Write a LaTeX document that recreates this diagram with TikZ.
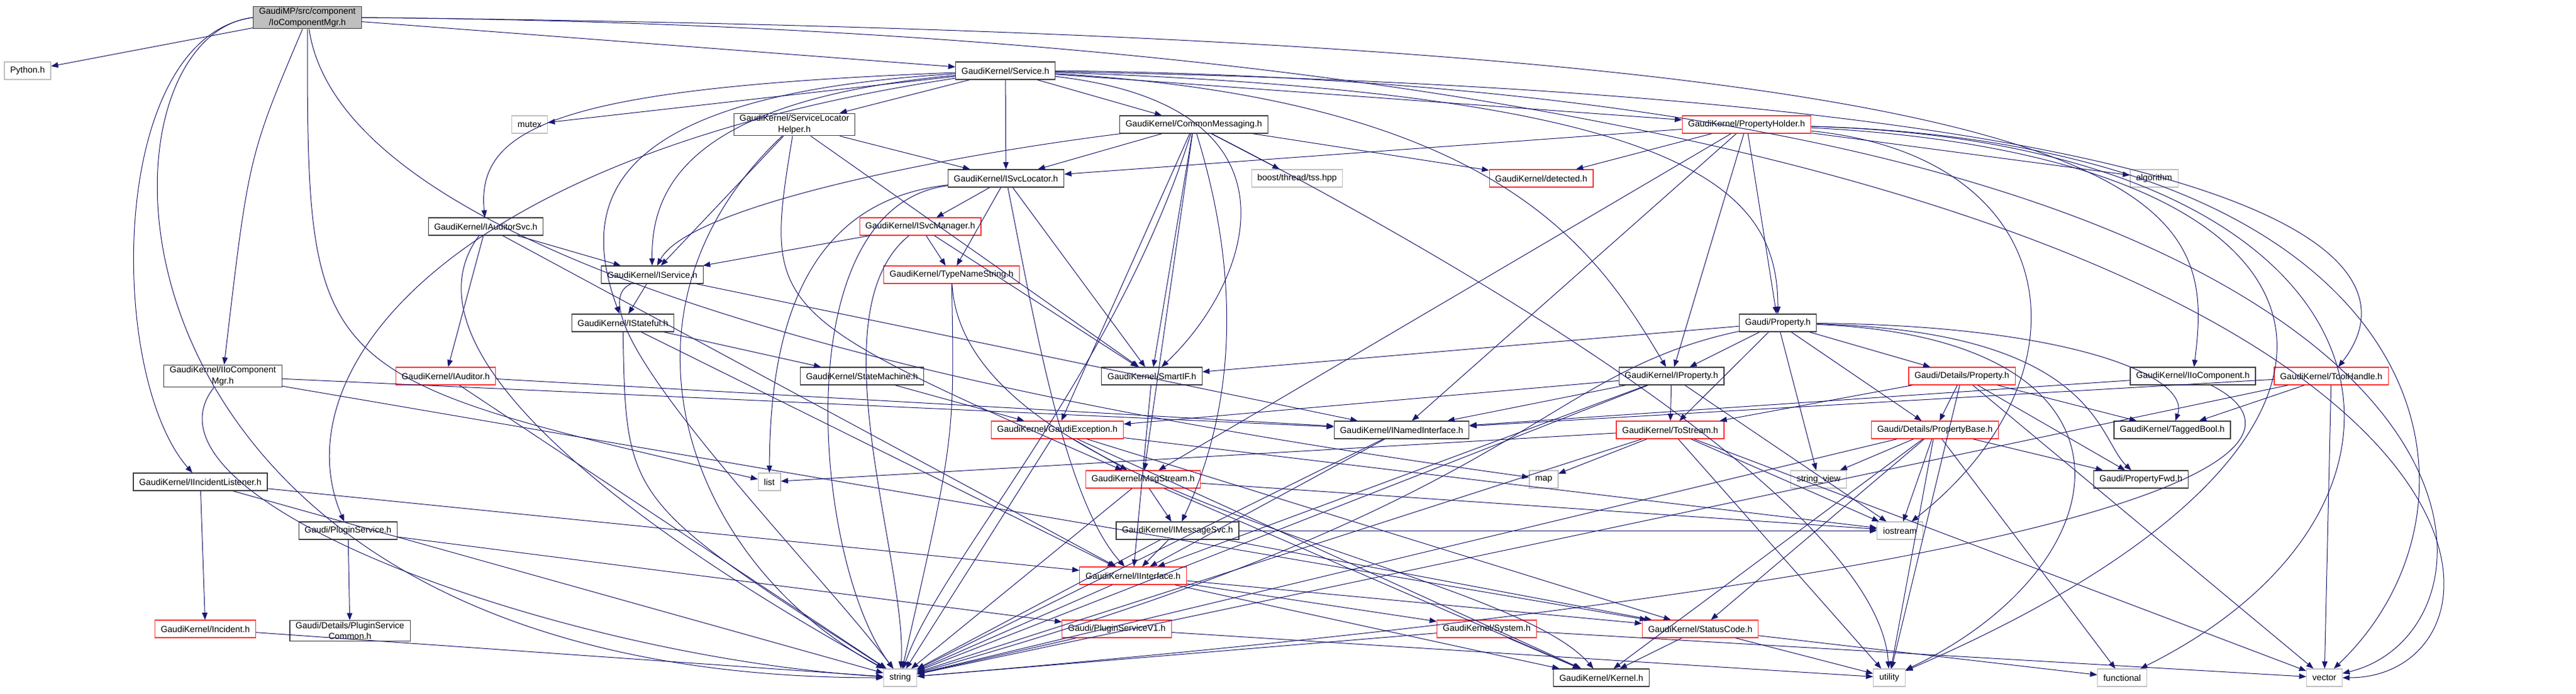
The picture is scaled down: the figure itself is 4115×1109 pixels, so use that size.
\documentclass[tikz,border=0pt]{standalone}
\usepackage{fontspec}
\setmainfont{Liberation Sans}
\usetikzlibrary{arrows.meta}
\definecolor{edgeblue}{HTML}{191970}
\definecolor{sysgray}{HTML}{BFBFBF}
\definecolor{cutred}{HTML}{FF3333}
\tikzset{
  hdr/.style={rectangle, draw=black!75, fill=white, line width=0.9pt, font=\fontsize{10.5}{13}\selectfont, inner xsep=7pt, inner ysep=2pt, minimum height=21pt, align=center},
  hdr_red/.style={hdr, draw=cutred},
  hdr_sys/.style={hdr, draw=sysgray},
  hdr_root/.style={hdr, fill=sysgray},
  dep/.style={draw=edgeblue, line width=0.75pt, -{Triangle[length=8.5pt,width=6.5pt]}},
}
\begin{document}
\begin{tikzpicture}[x=0.75pt,y=-0.75pt]
\useasboundingbox (0,0) rectangle (4115,1109);
% rank 0 - 3
\node[hdr_root] (root) at (491,28) {GaudiMP/src/component\\/IoComponentMgr.h};
\node[hdr_sys] (python) at (44,113) {Python.h};
\node[hdr] (service) at (1606,113) {GaudiKernel/Service.h};
\node[hdr_sys] (mutex) at (846,199) {mutex};
\node[hdr] (slh) at (1269,199) {GaudiKernel/ServiceLocator\\Helper.h};
\node[hdr] (commsg) at (1907,199) {GaudiKernel/CommonMessaging.h};
\node[hdr_red] (propholder) at (2790,199) {GaudiKernel/PropertyHolder.h};
\node[hdr] (isvcloc) at (1607,285) {GaudiKernel/ISvcLocator.h};
\node[hdr_sys] (tss) at (2072,285) {boost/thread/tss.hpp};
\node[hdr_red] (detected) at (2462,285) {GaudiKernel/detected.h};
\node[hdr_sys] (algorithm) at (3441,285) {algorithm};
% rank 4 - 6
\node[hdr] (iauditorsvc) at (776,362) {GaudiKernel/IAuditorSvc.h};
\node[hdr_red] (isvcmgr) at (1470,362) {GaudiKernel/ISvcManager.h};
\node[hdr] (iservice) at (1042,439) {GaudiKernel/IService.h};
\node[hdr_red] (typename) at (1520,439) {GaudiKernel/TypeNameString.h};
\node[hdr] (istateful) at (995,516) {GaudiKernel/IStateful.h};
\node[hdr] (property) at (2840,516) {Gaudi/Property.h};
% rank 7
\node[hdr] (iiocompmgr) at (356,601) {GaudiKernel/IIoComponent\\Mgr.h};
\node[hdr_red] (iauditor) at (712,601) {GaudiKernel/IAuditor.h};
\node[hdr] (statemachine) at (1377,601) {GaudiKernel/StateMachine.h};
\node[hdr] (smartif) at (1840,601) {GaudiKernel/SmartIF.h};
\node[hdr] (iproperty) at (2670,601) {GaudiKernel/IProperty.h};
\node[hdr_red] (detprop) at (3134,601) {Gaudi/Details/Property.h};
\node[hdr] (iiocomp) at (3503,601) {GaudiKernel/IIoComponent.h};
\node[hdr_red] (toolhandle) at (3724,601) {GaudiKernel/ToolHandle.h};
% rank 8
\node[hdr_red] (gaudiexc) at (1689,687) {GaudiKernel/GaudiException.h};
\node[hdr] (inamed) at (2239,687) {GaudiKernel/INamedInterface.h};
\node[hdr_red] (tostream) at (2668,687) {GaudiKernel/ToStream.h};
\node[hdr_red] (propbase) at (3091,687) {Gaudi/Details/PropertyBase.h};
\node[hdr] (taggedbool) at (3470,687) {GaudiKernel/TaggedBool.h};
% rank 9 and below
\node[hdr] (iincident) at (320,770) {GaudiKernel/IIncidentListener.h};
\node[hdr_sys] (list) at (1229,770) {list};
\node[hdr_red] (msgstream) at (1826,766) {GaudiKernel/MsgStream.h};
\node[hdr_sys] (map) at (2466,766) {map};
\node[hdr_sys] (stringview) at (2905,766) {string\_view};
\node[hdr] (propfwd) at (3420,766) {Gaudi/PropertyFwd.h};
\node[hdr] (pluginsvc) at (556,848) {Gaudi/PluginService.h};
\node[hdr] (imsgsvc) at (1881,848) {GaudiKernel/IMessageSvc.h};
\node[hdr_sys] (iostream) at (3035,848) {iostream};
\node[hdr_red] (interface) at (1810,920) {GaudiKernel/IInterface.h};
\node[hdr_red] (incident) at (328,1005) {GaudiKernel/Incident.h};
\node[hdr] (pscommon) at (559,1008) {Gaudi/Details/PluginService\\Common.h};
\node[hdr_red] (pluginv1) at (1784,1005) {Gaudi/PluginServiceV1.h};
\node[hdr_red] (system) at (2375,1005) {GaudiKernel/System.h};
\node[hdr_red] (statuscode) at (2716,1005) {GaudiKernel/StatusCode.h};
\node[hdr_sys] (string) at (1438,1083) {string};
\node[hdr] (kernel) at (2558,1083) {GaudiKernel/Kernel.h};
\node[hdr_sys] (utility) at (3018,1083) {utility};
\node[hdr_sys] (functional) at (3390,1083) {functional};
\node[hdr_sys] (vector) at (3713,1083) {vector};
% root
\draw[dep] (root) -- (python);
\draw[dep] (root) -- (service);
\draw[dep] (root) .. controls (397,250) .. (iiocompmgr);
\draw[dep] (root.east) .. controls (3500,60) and (3540,300) .. (iiocomp);
\draw[dep] (root.east) .. controls (4109,60) and (4109,1083) .. (vector.east);
\draw[dep] (root.west) .. controls (171,60) and (171,600) .. (iincident);
\draw[dep] (root.west) .. controls (120,60) and (120,1083) .. (string.west);
\draw[dep] (root) .. controls (491,600) .. (list);
\draw[dep] (root) .. controls (560,500) and (2000,700) .. (map);
% Service.h
\draw[dep] (service) -- (mutex);
\draw[dep] (service) -- (slh);
\draw[dep] (service) -- (isvcloc);
\draw[dep] (service) -- (commsg);
\draw[dep] (service) -- (propholder);
\draw[dep] (service) .. controls (900,140) and (760,200) .. (iauditorsvc);
\draw[dep] (service) .. controls (1100,160) and (1040,300) .. (iservice);
\draw[dep] (service) .. controls (1000,150) and (915,300) .. (istateful);
\draw[dep] (service) .. controls (700,250) and (450,600) .. (pluginsvc);
\draw[dep] (service) .. controls (2100,170) and (2000,450) .. (smartif);
\draw[dep] (service) .. controls (2400,160) and (2550,400) .. (iproperty);
\draw[dep] (service) .. controls (2700,150) and (2840,300) .. (property);
\draw[dep] (service) .. controls (3600,150) and (3880,400) .. (toolhandle);
\draw[dep] (service.east) .. controls (4059,140) and (4059,1000) .. (vector);
% ServiceLocatorHelper.h
\draw[dep] (slh) -- (isvcloc);
\draw[dep] (slh) -- (iservice);
\draw[dep] (slh) -- (smartif);
\draw[dep] (slh) .. controls (1220,500) .. (msgstream);
\draw[dep] (slh) .. controls (950,500) and (1100,900) .. (string);
% CommonMessaging.h
\draw[dep] (commsg) -- (isvcloc);
\draw[dep] (commsg) -- (tss);
\draw[dep] (commsg) -- (detected);
\draw[dep] (commsg) .. controls (1500,250) and (1100,330) .. (iservice);
\draw[dep] (commsg) -- (smartif);
\draw[dep] (commsg) -- (gaudiexc);
\draw[dep] (commsg) -- (msgstream);
\draw[dep] (commsg) .. controls (2000,500) and (1950,700) .. (imsgsvc);
\draw[dep] (commsg) .. controls (1780,600) and (1500,900) .. (string);
\draw[dep] (commsg) .. controls (2300,400) and (3000,800) .. (utility);
% PropertyHolder.h
\draw[dep] (propholder) -- (isvcloc);
\draw[dep] (propholder) -- (detected);
\draw[dep] (propholder) -- (algorithm);
\draw[dep] (propholder) -- (property);
\draw[dep] (propholder) -- (iproperty);
\draw[dep] (propholder) -- (inamed);
\draw[dep] (propholder) -- (msgstream);
\draw[dep] (propholder) .. controls (3300,250) and (3350,600) .. (iostream);
\draw[dep] (propholder) .. controls (3800,250) and (3907,700) .. (utility);
\draw[dep] (propholder) .. controls (3850,230) and (3958,800) .. (functional);
\draw[dep] (propholder) .. controls (3900,230) and (4009,800) .. (vector);
% ISvcLocator.h
\draw[dep] (isvcloc) -- (isvcmgr);
\draw[dep] (isvcloc) -- (typename);
\draw[dep] (isvcloc) -- (smartif);
\draw[dep] (isvcloc) .. controls (1650,500) and (1700,800) .. (interface);
\draw[dep] (isvcloc) .. controls (1300,320) and (1230,500) .. (list);
\draw[dep] (isvcloc) .. controls (1250,330) and (1300,900) .. (string);
% IAuditorSvc.h
\draw[dep] (iauditorsvc) -- (iservice);
\draw[dep] (iauditorsvc) -- (iauditor);
\draw[dep] (iauditorsvc) .. controls (600,600) and (1200,950) .. (string);
\draw[dep] (iauditorsvc) -- (interface);
% ISvcManager.h
\draw[dep] (isvcmgr) -- (iservice);
\draw[dep] (isvcmgr) -- (typename);
\draw[dep] (isvcmgr) -- (smartif);
\draw[dep] (isvcmgr) .. controls (1300,500) and (1450,900) .. (string);
% IService.h
\draw[dep] (iservice) -- (istateful);
\draw[dep] (iservice) -- (inamed);
\draw[dep] (iservice) .. controls (900,500) and (1300,900) .. (string);
% TypeNameString.h
\draw[dep] (typename) .. controls (1525,700) .. (string);
\draw[dep] (typename) .. controls (1540,800) and (2400,900) .. (kernel);
% IStateful.h
\draw[dep] (istateful) -- (statemachine);
\draw[dep] (istateful) -- (interface);
\draw[dep] (istateful) .. controls (1000,800) .. (string);
% rank 7 nodes
\draw[dep] (iiocompmgr) -- (inamed);
\draw[dep] (iiocompmgr) .. controls (200,800) and (900,1050) .. (string);
\draw[dep] (iiocompmgr) -- (statuscode);
\draw[dep] (iauditor) -- (inamed);
\draw[dep] (iauditor) -- (string);
\draw[dep] (statemachine) -- (gaudiexc);
\draw[dep] (smartif) -- (interface);
\draw[dep] (iproperty) -- (inamed);
\draw[dep] (iproperty) -- (tostream);
\draw[dep] (iproperty) -- (gaudiexc);
\draw[dep] (iproperty) -- (interface);
\draw[dep] (iproperty) -- (string);
\draw[dep] (iproperty) -- (iostream);
\draw[dep] (iiocomp) -- (inamed);
\draw[dep] (iiocomp) .. controls (3700,700) and (3600,900) .. (string);
\draw[dep] (toolhandle) -- (inamed);
\draw[dep] (toolhandle) -- (taggedbool);
\draw[dep] (toolhandle) -- (string);
\draw[dep] (toolhandle) -- (vector);
% Gaudi/Property.h
\draw[dep] (property) -- (iproperty);
\draw[dep] (property) -- (tostream);
\draw[dep] (property) -- (detprop);
\draw[dep] (property) -- (propbase);
\draw[dep] (property) -- (smartif);
\draw[dep] (property) -- (stringview);
\draw[dep] (property) .. controls (3300,520) and (3500,600) .. (taggedbool);
\draw[dep] (property) .. controls (3350,530) and (3350,700) .. (propfwd);
\draw[dep] (property) .. controls (2450,600) and (2450,800) .. (string);
\draw[dep] (property) .. controls (3450,540) and (3400,900) .. (utility);
% Gaudi/Details/Property.h
\draw[dep] (detprop) -- (tostream);
\draw[dep] (detprop) -- (propbase);
\draw[dep] (detprop) -- (taggedbool);
\draw[dep] (detprop) -- (propfwd);
\draw[dep] (detprop) -- (utility);
\draw[dep] (detprop) -- (vector);
% rank 8 nodes
\draw[dep] (gaudiexc) -- (string);
\draw[dep] (gaudiexc) -- (msgstream);
\draw[dep] (gaudiexc) -- (kernel);
\draw[dep] (gaudiexc) -- (statuscode);
\draw[dep] (gaudiexc) -- (iostream);
\draw[dep] (inamed) -- (interface);
\draw[dep] (inamed) -- (string);
\draw[dep] (tostream) -- (list);
\draw[dep] (tostream) -- (map);
\draw[dep] (tostream) -- (iostream);
\draw[dep] (tostream) -- (string);
\draw[dep] (tostream) -- (utility);
\draw[dep] (tostream) -- (vector);
\draw[dep] (propbase) -- (stringview);
\draw[dep] (propbase) -- (propfwd);
\draw[dep] (propbase) -- (iostream);
\draw[dep] (propbase) -- (utility);
\draw[dep] (propbase) -- (functional);
\draw[dep] (propbase) -- (statuscode);
\draw[dep] (propbase) -- (kernel);
\draw[dep] (propbase) -- (string);
% lower nodes
\draw[dep] (iincident) -- (interface);
\draw[dep] (iincident) -- (incident);
\draw[dep] (iincident) -- (string);
\draw[dep] (msgstream) -- (imsgsvc);
\draw[dep] (msgstream) -- (string);
\draw[dep] (msgstream) -- (iostream);
\draw[dep] (msgstream) -- (kernel);
\draw[dep] (imsgsvc) -- (interface);
\draw[dep] (imsgsvc) -- (string);
\draw[dep] (imsgsvc) -- (iostream);
\draw[dep] (imsgsvc) -- (statuscode);
\draw[dep] (pluginsvc) -- (pluginv1);
\draw[dep] (pluginsvc) -- (pscommon);
\draw[dep] (incident) -- (string);
\draw[dep] (pluginv1) -- (string);
\draw[dep] (pluginv1) -- (utility);
\draw[dep] (interface) -- (system);
\draw[dep] (interface) -- (statuscode);
\draw[dep] (interface) -- (kernel);
\draw[dep] (interface) -- (string);
\draw[dep] (system) -- (kernel);
\draw[dep] (system) -- (string);
\draw[dep] (system) -- (vector);
\draw[dep] (statuscode) -- (kernel);
\draw[dep] (statuscode) -- (utility);
\draw[dep] (statuscode) -- (functional);
\end{tikzpicture}
\end{document}
